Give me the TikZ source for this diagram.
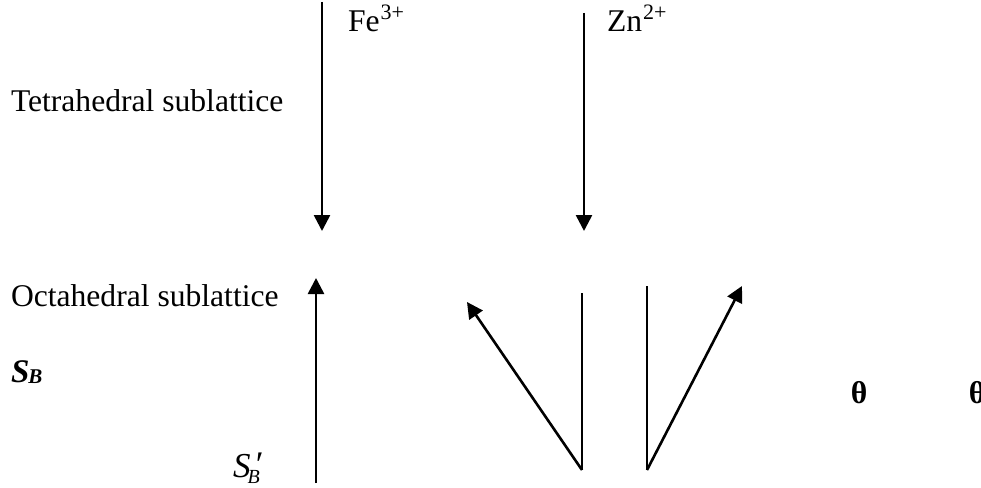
\documentclass[tikz,border=0pt]{standalone}
\usepackage{amsmath}
\usepackage{fontspec}
\setmainfont{Liberation Serif}
\usetikzlibrary{arrows.meta}
\newcommand{\fsz}[1]{\fontsize{#1}{#1}\selectfont}
\begin{document}
\begin{tikzpicture}[x=1pt,y=-1pt,
  lbl/.style={inner sep=0pt,outer sep=0pt,font=\fontsize{31.6}{36}\selectfont},
  vec/.style={line width=2.6pt,-{Triangle[width=16pt,length=16pt]}},
  bar/.style={line width=2.6pt}]
\useasboundingbox (0,0) rectangle (981,487);
% labels
\node[lbl,anchor=base west] (tet) at (11,111) {Tetrahedral sublattice};
\node[lbl,anchor=base west] (oct) at (11,306) {Octahedral sublattice};
\node[lbl,anchor=base west] (fe) at (348,32) {Fe\kern1pt\raisebox{12pt}{\fsz{22}3+}};
\node[lbl,anchor=base west] (zn) at (607,32) {Zn\kern1pt\raisebox{12pt}{\fsz{22}2+}};
\node[lbl,anchor=base west] (sb) at (11,382) {\bfseries\itshape\fsz{33}S\kern-1pt\raisebox{-1pt}{\fsz{21}B}};
\node[lbl,anchor=base west] (sbp) at (233,477) {\itshape\fsz{35}S\rlap{\kern3pt\raisebox{1pt}{\fsz{36}′}}\kern-3pt\raisebox{-6pt}{\fsz{20}B}};
\node[lbl,anchor=center] (th1) at (859,393) {\textbf{θ}};
\node[lbl,anchor=center] (th2) at (977,393) {\textbf{θ}};
% coordinates
\coordinate (fetop) at (322,2);
\coordinate (febot) at (322,231);
\coordinate (zntop) at (584,13);
\coordinate (znbot) at (584,231);
\coordinate (upbot) at (316,483);
\coordinate (uptop) at (316,278);
\coordinate (lvtop) at (582,293);
\coordinate (lvbot) at (582,470);
\coordinate (ltip) at (467,302);
\coordinate (rvtop) at (647,286);
\coordinate (rvbot) at (647,470);
\coordinate (rtip) at (742,286);
% arrows
\draw[vec] (fetop) -- (febot);
\draw[vec] (zntop) -- (znbot);
\draw[vec] (upbot) -- (uptop);
\draw[bar] (lvtop) -- (lvbot);
\draw[vec] (lvbot) -- (ltip);
\draw[bar] (rvtop) -- (rvbot);
\draw[vec] (rvbot) -- (rtip);
\end{tikzpicture}
\end{document}
